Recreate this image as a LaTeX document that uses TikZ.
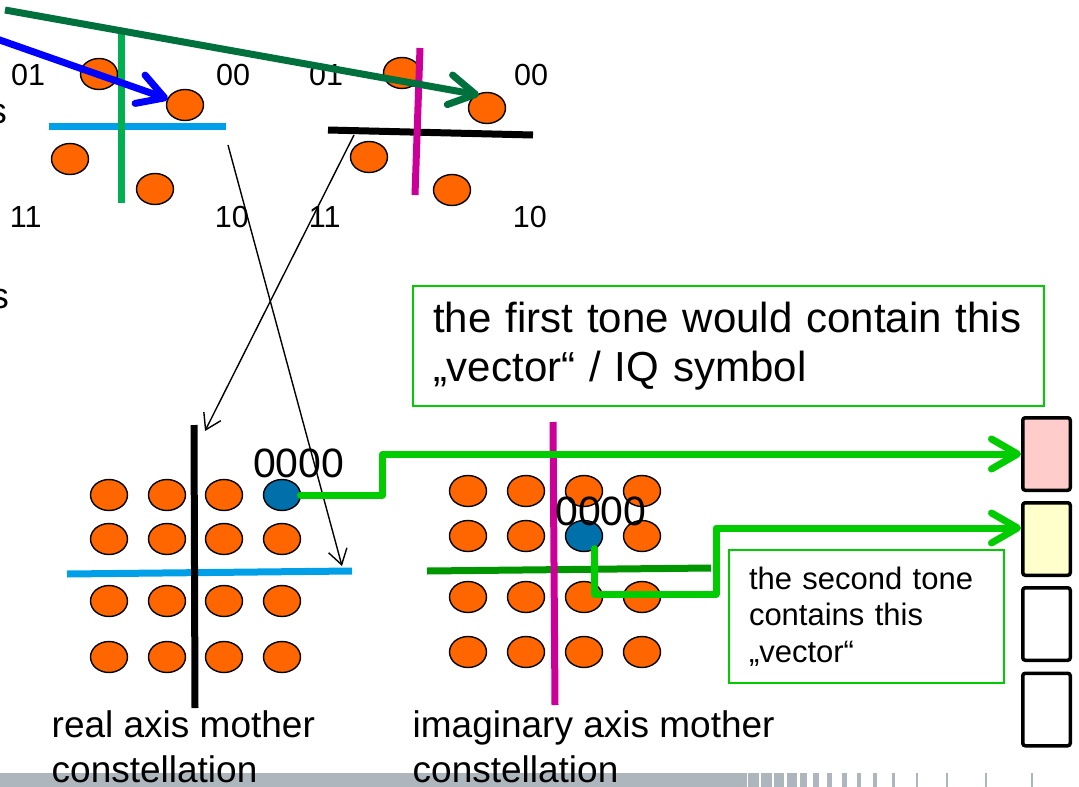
\documentclass[tikz,border=0pt]{standalone}
\usepackage{fontspec}
\setmainfont{Liberation Sans}
\usetikzlibrary{arrows.meta,shapes.geometric,calc}
\definecolor{dotorange}{RGB}{255,102,0}
\definecolor{dotblue}{RGB}{0,112,170}
\definecolor{axcyan}{RGB}{0,160,233}
\definecolor{axgreen}{RGB}{0,176,80}
\definecolor{axmagenta}{RGB}{204,0,153}
\definecolor{axdkgreen}{RGB}{0,150,0}
\definecolor{arrdkgreen}{RGB}{0,112,60}
\definecolor{arrblue}{RGB}{0,0,255}
\definecolor{brightgreen}{RGB}{0,204,0}
\definecolor{tonepink}{RGB}{255,204,204}
\definecolor{toneyellow}{RGB}{255,255,204}
\definecolor{bargray}{RGB}{174,182,189}
\begin{document}
\begin{tikzpicture}[x=1pt,y=-1pt,
  dot/.style={ellipse,draw=black,line width=1.4pt,fill=dotorange,minimum width=37pt,minimum height=31pt,inner sep=0pt,outer sep=0pt},
  bdot/.style={dot,fill=dotblue},
  axisline/.style={line width=7pt},
  fatarrow/.style={line width=7pt,line cap=round,line join=round,-{Straight Barb[length=26pt,width=30pt,round]}},
  thinarrow/.style={line width=1.4pt,-{Straight Barb[length=15pt,width=19pt]}},
  qlabel/.style={inner sep=0pt,anchor=base west,font=\fontsize{30.5}{36}\selectfont},
  zlabel/.style={inner sep=0pt,anchor=base west,font=\fontsize{41}{49}\selectfont},
  axcaption/.style={inner sep=0pt,anchor=north west,align=left,font=\fontsize{37}{45}\selectfont},
  notebox/.style={draw=brightgreen,line width=2pt,inner xsep=20pt,inner ysep=0pt,align=left},
  tonebox/.style={draw=black,line width=3.5pt,rounded corners=2.5pt,minimum width=47.5pt,minimum height=72.5pt,inner sep=0pt},
  frag/.style={inner sep=0pt,anchor=base east,font=\fontsize{36}{40}\selectfont},
]
\useasboundingbox (0,0) rectangle (1079,787);

% bottom gray bar
\fill[bargray] (0,773) rectangle (747,787);
\foreach \a/\b in {748.3/759.3,761/771.7,774/784,786.7/796.7,800/807.3,812.7/819,826.7/832.3,841.7/846.7,857.3/861.3,873.3/876.7,892/895,916/918.3,946/948.3,985/987.3,1030.7/1033}
  \fill[bargray] (\a,773) rectangle (\b,787);

% cut-off text fragments at the left edge
\node[frag] (s1) at (7,123) {s};
\node[frag] (s2) at (9,308) {s};

% top-left QPSK constellation
\node[dot] (tl1) at (99,74) {};
\node[dot] (tl2) at (185,105) {};
\node[dot] (tl3) at (70,159) {};
\node[dot] (tl4) at (155,189) {};
\draw[axisline,axcyan] (49,126) -- (226,126);
\draw[axisline,axgreen] (121,33) -- (121,203);
\node[qlabel] (q1) at (11,85) {01};
\node[qlabel] (q2) at (216,85) {00};
\node[qlabel] (q3) at (9.7,227) {11};
\node[qlabel] (q4) at (214.7,227) {10};

% top-right QPSK constellation
\node[dot] (tr1) at (402,73) {};
\node[dot] (tr2) at (487,108) {};
\node[dot] (tr3) at (369,157) {};
\node[dot] (tr4) at (452,190) {};
\draw[axisline,black] (328,130) -- (533,135);
\draw[axisline,axmagenta] (420,48) -- (415,195);
\node[qlabel] (q5) at (309,85) {01};
\node[qlabel] (q6) at (514,85) {00};
\node[qlabel] (q7) at (308.7,227) {11};
\node[qlabel] (q8) at (512.7,227) {10};

% thin arrows between constellations
\coordinate (ta1) at (228,145);
\coordinate (ta2) at (342,566);
\coordinate (tb1) at (354,135);
\coordinate (tb2) at (205,431);
\draw[thinarrow] (ta1) -- (ta2);
\draw[thinarrow] (tb1) -- (tb2);

% bottom-left 16-point constellation (real axis)
\foreach \n/\x/\y in {a/109/495,b/167/495,c/224/495,
                      e/109/539,f/167/539,g/224/539,h/282/539,
                      i/109/601,j/167/601,k/224/601,l/282/601,
                      m/109/657,n/167/657,o/224/657,p/282/657}
  \node[dot] (L\n) at (\x,\y) {};
\node[bdot] (b1) at (282,495) {};
\draw[axisline,axcyan] (67,574) -- (352,571);
\draw[axisline,black] (194,425) -- (195,708);

% bottom-right 16-point constellation (imaginary axis)
\foreach \n/\x/\y in {a/468/491,b/526/491,c/584/491,d/642/491,
                      e/468/536,f/526/536,h/642/536,
                      i/468/597,j/526/597,k/584/597,l/642/597,
                      m/468/652,n/526/652,o/584/652,p/642/652}
  \node[dot] (R\n) at (\x,\y) {};
\node[bdot] (b2) at (584,536) {};
\draw[axisline,axdkgreen] (427,571) -- (711,568);
\draw[axisline,axmagenta] (553,422) -- (555,705);

% note boxes
\node[notebox,text width=591pt,minimum width=631pt,minimum height=120pt,
      font=\fontsize{42}{49}\selectfont] (box1) at (728.5,346)
  {the first tone would contain this\\„vector“ / IQ symbol};
\node[notebox,text width=235pt,minimum width=275pt,minimum height=133pt,
      font=\fontsize{31}{36.5}\selectfont] (box2) at (866.5,616.5)
  {the second tone\\contains this\\„vector“};

% tone boxes
\node[tonebox,fill=tonepink]   (r1) at (1046.5,454) {};
\node[tonebox,fill=toneyellow] (r2) at (1046.5,539) {};
\node[tonebox,fill=white]      (r3) at (1046.5,624) {};
\node[tonebox,fill=white]      (r4) at (1046.5,709.5) {};

% green arrows from the vectors to the tones
\draw[fatarrow,brightgreen] (b1.east) -- ++(82,0) |- (r1.west);
\coordinate (k2) at (716,594);
\draw[fatarrow,brightgreen] (b2.-50) |- (k2) |- ($(r2.west)+(0,-11)$);

% 0000 labels
\node[zlabel] (z1) at (253,477) {0000};
\node[zlabel] (z2) at (555,525) {0000};

% thick arrows on top
\coordinate (bs) at (-6,38);
\draw[fatarrow,arrblue] (bs) -- (tl2);
\coordinate (gs) at (5,10);
\coordinate (ge) at (479,95);
\draw[fatarrow,arrdkgreen,line cap=butt] (gs) -- (ge);

% captions
\node[axcaption] (c1) at (51.5,710.5) {real axis mother\\constellation};
\node[axcaption] (c2) at (412.5,710.5) {imaginary axis mother\\constellation};
\end{tikzpicture}
\end{document}
